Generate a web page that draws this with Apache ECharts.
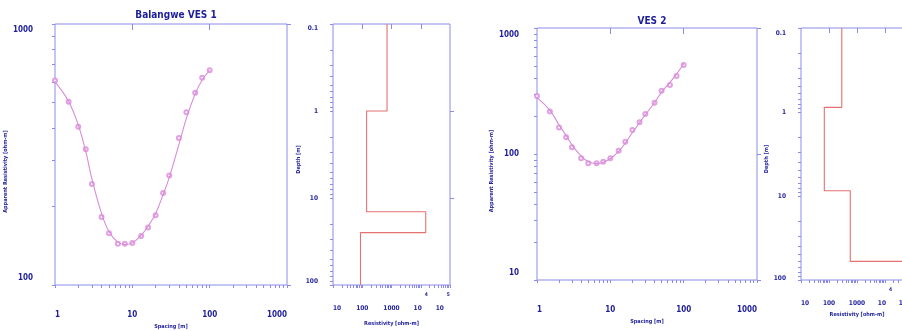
<!DOCTYPE html>
<html>
<head>
<meta charset="utf-8">
<title>Balangwe VES</title>
<script src="https://cdn.jsdelivr.net/npm/echarts@6/dist/echarts.min.js"></script>
<style>
  html, body { margin: 0; padding: 0; background: #fff; }
  #chart { width: 902px; height: 331px; }
</style>
</head>
<body>
<div id="chart"></div>
<script>
// VES 1 - field points (AB/2 in m, apparent resistivity in ohm-m)
const ves1Spacing = [1, 1.5, 2, 2.5, 3, 4, 5, 6.5, 8, 10, 13, 16, 20, 25, 30, 40, 50, 65, 80, 100];
const ves1Rho = [607, 504, 404, 331, 244, 182, 158, 144, 144, 145, 154, 166, 185, 225, 263, 366, 459, 545, 622, 665];
// VES 1 - fitted curve
const ves1CurveSpacing = [1, 1.5, 2, 2.5, 3, 4, 5, 6.5, 8, 10, 13, 16, 20, 25, 30, 40, 50, 65, 80, 100];
const ves1CurveRho = [600, 505, 410, 325, 255, 188, 160, 146, 143, 145, 155, 168, 188, 222, 258, 345, 435, 540, 610, 665];
// VES 1 - layered model (layer resistivity, depth to layer base)
const ves1LayerRho = [703, 141, 14800, 87];
const ves1LayerBase = [1, 14.4, 25];

// VES 2 - field points
const ves2Spacing = [1, 1.5, 2, 2.5, 3, 4, 5, 6.5, 8, 10, 13, 16, 20, 25, 30, 40, 50, 65, 80, 100];
const ves2Rho = [289, 217, 162, 136, 113, 92.5, 84.4, 84.4, 86.9, 92.5, 106, 125, 155, 179, 208, 255, 318, 353, 416, 508];
// VES 2 - fitted curve
const ves2CurveSpacing = [1, 1.5, 2, 2.5, 3, 4, 5, 6.5, 8, 10, 13, 16, 20, 25, 30, 40, 50, 65, 80, 100];
const ves2CurveRho = [280, 222, 170, 140, 118, 96, 87, 84, 86, 92, 105, 122, 148, 177, 205, 255, 310, 370, 430, 520];
// VES 2 - layered model
const ves2LayerRho = [286, 68, 575, 100000];
const ves2LayerBase = [0.88, 8.65, 60];

// tick labels
const spacingLabels = [1, 10, 100, 1000];
const ves1RhoLabels = [100, 1000];
const ves2RhoLabels = [10, 100, 1000];
const depthLabels = [0.1, 1, 10, 100];
const modelRhoLabels = [10, 100, 1000, 10000, 100000];

const FRAME = '#8c8ce8';
const INK = '#1e1e9a';
const FIT = '#d98bd9';
const MODEL = '#e47070';
const FONT = '"Liberation Sans Narrow", "DejaVu Sans Condensed", sans-serif';

// 1..9 ticks in every decade between min and max
function logTicks(min, max) {
    const out = [];
    for (let e = Math.floor(Math.log10(min)); e < Math.ceil(Math.log10(max)) + 1; e++) {
        for (let k = 1; k < 10; k++) {
            const v = +(k * Math.pow(10, e)).toPrecision(6);
            if (v >= min && v <= max) out.push(v);
        }
    }
    return out;
}

function stepPath(rhos, bases, top, bottom) {
    const pts = [];
    let d = top;
    rhos.forEach(function (r, i) {
        const next = i < bases.length ? bases[i] : bottom;
        pts.push([r, d], [r, next]);
        d = next;
    });
    return pts;
}

function same(a, b) {
    return Math.abs(Math.log10(a) - Math.log10(b)) < 1e-6;
}

function plain(v) {
    return String(+(+v).toPrecision(6));
}

const nameStyle = { color: INK, fontSize: 5.5, fontWeight: 'bold', fontFamily: FONT };

// y labels: top one pushed down, bottom one pushed up
function yLabel(values, top, bottom, shiftTop, shiftBot, size, margin) {
    return {
        customValues: values,
        color: INK, fontSize: size, fontWeight: 'bold', fontFamily: FONT, margin: margin,
        formatter: function (v) {
            const t = plain(v);
            if (same(v, top)) return '{dn|' + t + '}';
            if (same(v, bottom)) return '{up|' + t + '}';
            return t;
        },
        rich: {
            dn: { padding: [shiftTop * 2, 0, 0, 0] },
            up: { padding: [0, 0, shiftBot * 2, 0] }
        }
    };
}

function modelXLabel(margin) {
    return {
        customValues: modelRhoLabels,
        color: INK, fontWeight: 'bold', fontFamily: FONT, margin: margin,
        alignMinLabel: 'left', alignMaxLabel: 'right',
        formatter: function (v) {
            const e = Math.round(Math.log10(v));
            if (e >= 4) return '{b|10}{e|' + e + '}';
            return '{b|' + plain(v) + '}';
        },
        rich: {
            b: { fontSize: 6.5, padding: [12, 0, 0, 0] },
            e: { fontSize: 5, padding: [0, 0, 14, 3] }
        }
    };
}

function tick(values, len, inside) {
    return { show: true, customValues: values, length: len, inside: !!inside, lineStyle: { color: FRAME, width: 1 } };
}

const grids = [
    { left: 55, top: 24, width: 232, height: 261 },
    { left: 333, top: 24, width: 117, height: 261 },
    { left: 537, top: 28, width: 220, height: 252 },
    { left: 801, top: 28, width: 112, height: 252 }
].map(function (g) {
    return Object.assign({
        show: true, borderColor: FRAME, borderWidth: 1, backgroundColor: 'transparent',
        containLabel: false, outerBoundsMode: 'none'
    }, g);
});

const hidden = { show: false };

function curveAxes(gi, yMin, yMax, yLabels, xNameGap, xMargin, yNameGap, yMargin, yShiftTop, yShiftBot) {
    const xa = [{
        gridIndex: gi, type: 'log', logBase: 10, min: 1, max: 1000, position: 'bottom',
        axisLine: hidden, splitLine: hidden,
        axisTick: tick(logTicks(1, 1000), 3),
        axisLabel: {
            customValues: spacingLabels, color: INK, fontSize: 8, fontWeight: 'bold', fontFamily: FONT,
            margin: xMargin, alignMinLabel: 'left', alignMaxLabel: 'right', formatter: plain
        },
        name: 'Spacing [m]', nameLocation: 'middle', nameGap: xNameGap, nameTextStyle: nameStyle
    }, {
        gridIndex: gi, type: 'log', logBase: 10, min: 1, max: 1000, position: 'top',
        axisLine: hidden, splitLine: hidden, axisLabel: hidden,
        axisTick: tick([10, 100], 6, true)
    }];
    const ya = [{
        gridIndex: gi, type: 'log', logBase: 10, min: yMin, max: yMax, position: 'left',
        axisLine: hidden, splitLine: hidden,
        axisTick: tick(logTicks(yMin, yMax), 3),
        axisLabel: yLabel(yLabels, yMax, yMin, yShiftTop, yShiftBot, 8, yMargin),
        name: 'Apparent Resistivity [ohm-m]', nameLocation: 'middle', nameRotate: 90,
        nameGap: yNameGap, nameTextStyle: Object.assign({ padding: [0, 34, 0, 0] }, nameStyle)
    }, {
        gridIndex: gi, type: 'log', logBase: 10, min: yMin, max: yMax, position: 'right',
        axisLine: hidden, splitLine: hidden, axisLabel: hidden,
        axisTick: tick(yLabels, 4)
    }];
    return { x: xa, y: ya };
}

function modelAxes(gi, xNameGap, yNameGap, yMargin, yShiftTop, yShiftBot) {
    const xa = [{
        gridIndex: gi, type: 'log', logBase: 10, min: 10, max: 100000, position: 'bottom',
        axisLine: hidden, splitLine: hidden,
        axisTick: tick(logTicks(10, 100000), 3),
        axisLabel: modelXLabel(7.5),
        name: 'Resistivity [ohm-m]', nameLocation: 'middle', nameGap: xNameGap, nameTextStyle: nameStyle
    }, {
        gridIndex: gi, type: 'log', logBase: 10, min: 10, max: 100000, position: 'top',
        axisLine: hidden, splitLine: hidden, axisLabel: hidden,
        axisTick: tick([100, 1000, 10000], 5, true)
    }];
    const ya = [{
        gridIndex: gi, type: 'log', logBase: 10, min: 0.1, max: 100, inverse: true, position: 'left',
        axisLine: hidden, splitLine: hidden,
        axisTick: tick(logTicks(0.1, 100), 3),
        axisLabel: yLabel(depthLabels, 0.1, 100, yShiftTop, yShiftBot, 6.5, yMargin),
        name: 'Depth [m]', nameLocation: 'middle', nameRotate: 90,
        nameGap: yNameGap, nameTextStyle: Object.assign({ padding: [0, 10, 0, 0] }, nameStyle)
    }, {
        gridIndex: gi, type: 'log', logBase: 10, min: 0.1, max: 100, inverse: true, position: 'right',
        axisLine: hidden, splitLine: hidden, axisLabel: hidden,
        axisTick: tick([1, 10], 4)
    }];
    return { x: xa, y: ya };
}

const a0 = curveAxes(0, 100, 1000, ves1RhoLabels, 38, 26, 40, 22, 6, 7);
const a1 = modelAxes(1, 36, 28, 15, 4, 4);
const a2 = curveAxes(2, 10, 1000, ves2RhoLabels, 36, 26, 38, 18, 7, 7);
const a3 = modelAxes(3, 32, 26, 15, 5, 2);

const xAxes = a0.x.concat(a1.x, a2.x, a3.x);
const yAxes = a0.y.concat(a1.y, a2.y, a3.y);

function zip(xs, ys) {
    return xs.map(function (x, i) { return [x, ys[i]]; });
}

function fitSeries(axisIdx, xs, ys) {
    return {
        type: 'line', xAxisIndex: axisIdx, yAxisIndex: axisIdx, data: zip(xs, ys),
        smooth: 0.4, showSymbol: false, silent: true,
        lineStyle: { color: FIT, width: 1.1 }
    };
}

function pointSeries(axisIdx, xs, ys) {
    return {
        type: 'scatter', xAxisIndex: axisIdx, yAxisIndex: axisIdx, data: zip(xs, ys),
        symbol: 'emptyCircle', symbolSize: 4, silent: true,
        itemStyle: { color: FIT, borderWidth: 0.9 }
    };
}

function modelSeries(axisIdx, rhos, bases) {
    return {
        type: 'line', xAxisIndex: axisIdx, yAxisIndex: axisIdx,
        data: stepPath(rhos, bases, 0.1, 100),
        showSymbol: false, silent: true,
        lineStyle: { color: MODEL, width: 1.1 }
    };
}

const chart = echarts.init(document.getElementById('chart'), null, { renderer: 'canvas' });
chart.setOption({
    animation: false,
    backgroundColor: '#fff',
    title: [
        { text: 'Balangwe VES 1', left: 171, top: 5, textAlign: 'center',
          textStyle: { color: INK, fontSize: 10, fontWeight: 'bold', fontFamily: FONT } },
        { text: 'VES 2', left: 647, top: 11, textAlign: 'center',
          textStyle: { color: INK, fontSize: 10, fontWeight: 'bold', fontFamily: FONT } }
    ],
    grid: grids,
    xAxis: xAxes,
    yAxis: yAxes,
    series: [
        fitSeries(0, ves1CurveSpacing, ves1CurveRho),
        pointSeries(0, ves1Spacing, ves1Rho),
        modelSeries(2, ves1LayerRho, ves1LayerBase),
        fitSeries(4, ves2CurveSpacing, ves2CurveRho),
        pointSeries(4, ves2Spacing, ves2Rho),
        modelSeries(6, ves2LayerRho, ves2LayerBase)
    ]
});
</script>
</body>
</html>
